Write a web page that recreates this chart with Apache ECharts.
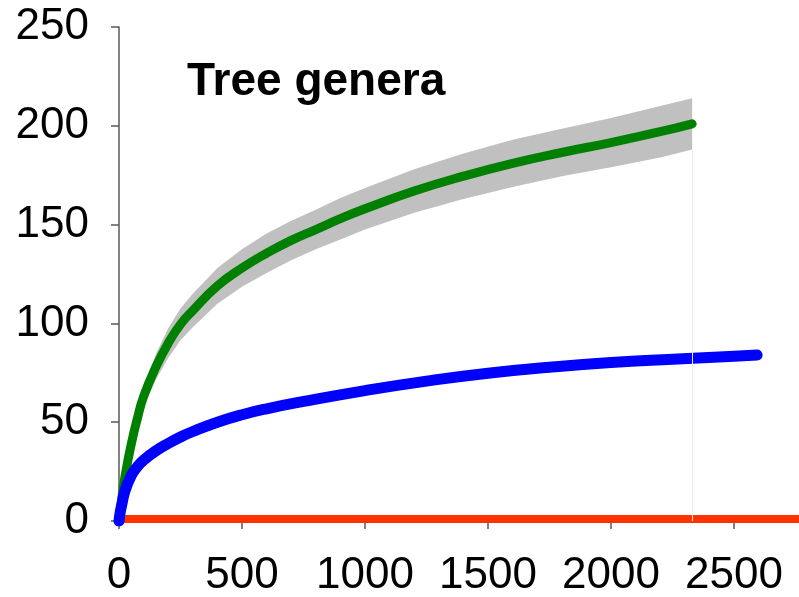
<!DOCTYPE html>
<html>
<head>
<meta charset="utf-8">
<script src="https://cdn.jsdelivr.net/npm/echarts@6/dist/echarts.min.js"></script>
<style>
  html, body { margin: 0; padding: 0; background: #fff; }
  #chart { width: 799px; height: 597px; }
</style>
</head>
<body>
<div id="chart"></div>
<script>
// Rarefaction curves: number of tree genera vs. number of individuals sampled
const titleText = 'Tree genera';

const xTicks = [0, 500, 1000, 1500, 2000, 2500];
const yTicks = [0, 50, 100, 150, 200, 250];

// Expected genera (green) with its confidence band (grey)
const greenX    = [0, 10, 25, 50, 75, 100, 150, 200, 250, 300, 400, 500, 600, 700, 800, 900, 1000, 1200, 1400, 1600, 1800, 2000, 2200, 2330];
const greenY    = [0, 10, 23, 39, 52, 63, 78, 90, 99.5, 106.5, 119, 128, 135.5, 142, 147.5, 153, 158, 167, 174.5, 181, 186.5, 191.5, 197, 201];
const bandLower = [0, 9, 21, 35.5, 47.5, 58, 71.5, 82.5, 91.5, 98, 110, 118.5, 125.5, 132, 137.5, 142.5, 147.5, 156, 163, 169, 174.5, 179, 184, 188];
const bandUpper = [0, 11, 25, 42.5, 56.5, 68, 84.5, 97.5, 107.5, 115, 128, 137.5, 145.5, 152, 157.5, 163.5, 168.5, 178, 186, 193, 198.5, 204, 210, 214];

// Second rarefaction curve (blue)
const blueX = [0, 5, 10, 25, 50, 75, 100, 150, 200, 250, 300, 400, 500, 600, 750, 1000, 1250, 1500, 1750, 2000, 2250, 2500, 2594];
const blueY = [0, 4.5, 7.5, 15.5, 23, 27.5, 30.8, 35.5, 39.2, 42.5, 45.3, 50, 53.8, 56.8, 60.5, 66, 70.8, 74.8, 77.8, 80.2, 81.9, 83.4, 84];

// Flat baseline series (red)
const redX = [0, 3000];
const redY = [1, 1];

const pairs = (xs, ys) => xs.map((x, i) => [x, ys[i]]);

const font = 'Liberation Sans, Arial, sans-serif';
const axisColor = '#5a5a5a';

// Closed polygon for the confidence band: upper edge forward, lower edge back
function renderBand(params, api) {
  const pts = [];
  for (let i = 0; i < greenX.length; i++) pts.push(api.coord([greenX[i], bandUpper[i]]));
  for (let i = greenX.length - 1; i >= 0; i--) pts.push(api.coord([greenX[i], bandLower[i]]));
  return {
    type: 'polygon',
    shape: { points: pts },
    style: { fill: '#c0c0c0', stroke: null }
  };
}

const chart = echarts.init(document.getElementById('chart'), null, { renderer: 'canvas' });
chart.setOption({
  animation: false,
  backgroundColor: '#ffffff',
  title: {
    text: titleText,
    left: 182,
    top: 54,
    textStyle: { fontFamily: font, fontSize: 46, fontWeight: 'bold', color: '#000' }
  },
  grid: { left: 119, top: 27, bottom: 76, width: 738, containLabel: false, outerBoundsMode: 'none' },
  xAxis: [
    {
      type: 'value',
      min: 0, max: 3000, interval: 500,
      position: 'bottom',
      axisLine: { show: true, onZero: false, lineStyle: { color: axisColor, width: 1.5 } },
      axisTick: { show: true, inside: false, length: 8, lineStyle: { color: axisColor, width: 1.5 } },
      axisLabel: { margin: 33, fontFamily: font, fontSize: 44, color: '#000', formatter: v => String(v) },
      splitLine: { show: false }
    },
    {
      type: 'value',
      min: 0, max: 3000,
      position: 'top',
      axisLine: { show: true, lineStyle: { color: axisColor, width: 2 } },
      axisTick: { show: false },
      axisLabel: { show: false },
      splitLine: { show: false }
    }
  ],
  yAxis: {
    type: 'value',
    min: 0, max: 250, interval: 50,
    axisLine: { show: true, onZero: false, lineStyle: { color: axisColor, width: 1.5 } },
    axisTick: { show: true, inside: false, length: 8, lineStyle: { color: axisColor, width: 1.5 } },
    axisLabel: { margin: 30, fontFamily: font, fontSize: 44, color: '#000', formatter: v => String(v) },
    splitLine: { show: false }
  },
  series: [
    {
      name: 'band',
      type: 'custom',
      renderItem: renderBand,
      data: [0],
      silent: true,
      z: 1,
      markLine: {
        silent: true,
        symbol: 'none',
        label: { show: false },
        lineStyle: { color: '#ececec', width: 1, type: 'solid' },
        data: [[
          { coord: [greenX[greenX.length - 1], 0] },
          { coord: [greenX[greenX.length - 1], bandLower[bandLower.length - 1]] }
        ]]
      }
    },
    {
      name: 'baseline',
      type: 'line',
      data: pairs(redX, redY),
      showSymbol: false,
      lineStyle: { color: '#ff3300', width: 8, cap: 'butt' },
      z: 2
    },
    {
      name: 'green',
      type: 'line',
      data: pairs(greenX, greenY),
      smooth: 0.5,
      showSymbol: false,
      lineStyle: { color: '#008000', width: 9, cap: 'round', join: 'round' },
      z: 3
    },
    {
      name: 'blue',
      type: 'line',
      data: pairs(blueX, blueY),
      smooth: 0.5,
      showSymbol: false,
      lineStyle: { color: '#0000ff', width: 11, cap: 'round', join: 'round' },
      z: 4
    }
  ]
});
</script>
</body>
</html>
